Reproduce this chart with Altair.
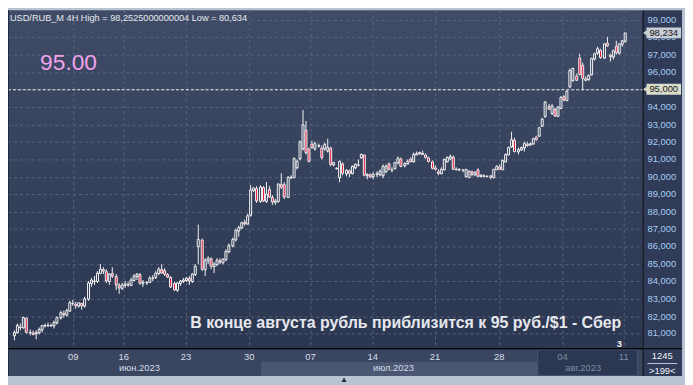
import altair as alt
import pandas as pd

# ---------------- data ----------------
opens = [
    80.90, 81.10, 81.40, 81.35, 81.90, 81.10, 81.10, 81.00, 81.05, 81.25,
    81.45, 81.50, 81.50, 81.45, 81.65, 81.90, 82.20, 82.10, 82.35, 82.75,
    82.70, 82.60, 82.75, 82.60, 83.00, 83.90, 84.05, 84.00, 84.50, 84.70,
    84.60, 84.00, 84.50, 84.30, 83.80, 83.60, 83.80, 83.85, 83.80, 84.10,
    84.30, 84.40, 83.90, 83.95, 83.95, 84.20, 84.25, 84.45, 84.70, 84.65,
    84.40, 84.25, 83.90, 83.50, 83.90, 84.00, 84.10, 84.20, 84.00, 84.40,
    86.00, 86.40, 84.70, 85.20, 85.30, 84.90, 85.00, 85.20, 85.10, 85.25,
    85.75, 86.05, 86.40, 86.90, 87.10, 87.40, 87.30, 87.80, 89.25, 89.35,
    88.60, 89.40, 88.60, 89.30, 88.85, 88.55, 88.60, 89.55, 89.60, 88.85,
    89.95, 90.00, 90.55, 91.05, 91.60, 92.70, 91.60, 91.90, 91.60, 91.80,
    91.70, 91.60, 91.50, 91.70, 90.70, 90.47, 90.00, 90.75, 90.20, 90.35,
    90.20, 90.55, 90.70, 91.10, 91.25, 90.10, 90.15, 90.05, 90.15, 90.15,
    90.10, 90.30, 90.75, 90.40, 90.50, 90.80, 91.05, 90.65, 90.75, 91.05,
    90.90, 91.30, 91.35, 91.40, 91.30, 91.10, 90.90, 90.55, 90.30, 90.20,
    90.40, 90.90, 91.05, 91.15, 90.45, 90.45, 90.40, 90.05, 90.00, 90.30,
    90.15, 90.45, 90.05, 90.10, 90.05, 90.07, 89.95, 90.45, 90.60, 90.45,
    90.90, 91.30, 91.75, 92.15, 91.45, 91.55, 91.70, 91.90, 91.85, 91.90,
    92.30, 92.35, 92.90, 93.50, 94.05, 93.65, 93.90, 93.50, 93.95, 94.60,
    94.40, 95.20, 95.55, 95.80, 96.85, 96.45, 95.65, 95.60, 95.85, 96.75,
    97.10, 97.30, 96.85, 97.70, 96.98, 96.90, 97.50, 97.10, 97.60, 97.80,
]
highs = [
    81.20, 81.60, 81.60, 82.00, 81.95, 81.25, 81.20, 81.20, 81.35, 81.50,
    81.60, 81.65, 81.60, 81.75, 82.00, 82.30, 82.35, 82.45, 82.90, 82.95,
    82.85, 82.80, 82.80, 83.10, 84.00, 84.20, 84.30, 84.60, 85.00, 84.80,
    84.70, 84.50, 84.80, 84.40, 83.90, 83.90, 84.00, 83.95, 84.20, 84.40,
    84.50, 84.50, 84.10, 84.05, 84.30, 84.35, 84.60, 84.80, 85.00, 84.75,
    84.50, 84.30, 83.95, 83.95, 84.10, 84.20, 84.25, 84.30, 84.50, 85.00,
    87.25, 86.45, 85.30, 85.45, 85.40, 85.10, 85.30, 85.35, 85.30, 85.85,
    86.15, 86.50, 87.00, 87.20, 87.45, 87.55, 87.85, 89.50, 89.40, 89.45,
    89.50, 89.45, 89.70, 89.45, 88.95, 88.70, 89.65, 90.20, 89.70, 90.05,
    90.10, 91.10, 91.00, 92.05, 93.83, 93.20, 91.70, 92.05, 92.00, 91.90,
    91.80, 91.95, 92.20, 91.75, 90.85, 90.55, 90.95, 90.85, 90.45, 90.45,
    90.65, 90.75, 91.00, 91.35, 91.30, 90.20, 90.20, 90.25, 90.30, 90.40,
    90.70, 90.70, 90.85, 90.55, 90.85, 91.15, 91.10, 90.85, 91.00, 91.10,
    91.40, 91.45, 91.45, 91.50, 91.35, 91.15, 90.95, 90.65, 90.40, 90.55,
    91.05, 91.15, 91.25, 91.20, 90.55, 90.50, 90.45, 90.45, 90.35, 90.35,
    90.30, 90.50, 90.15, 90.15, 90.10, 90.10, 90.45, 90.65, 90.70, 91.00,
    91.35, 91.75, 92.60, 92.25, 91.65, 91.75, 92.00, 92.00, 91.95, 92.25,
    92.35, 92.85, 93.35, 94.35, 94.15, 94.15, 93.95, 94.05, 94.60, 94.70,
    94.95, 96.20, 96.25, 95.90, 97.07, 96.55, 95.75, 95.85, 96.85, 97.10,
    97.45, 97.35, 97.65, 98.00, 97.05, 97.30, 97.80, 97.65, 97.85, 98.2525,
]
lows = [
    80.634, 81.00, 81.20, 81.30, 81.00, 80.90, 80.90, 80.70, 80.95, 81.10,
    81.35, 81.40, 81.40, 81.30, 81.55, 81.80, 81.95, 82.00, 82.25, 82.60,
    82.45, 82.50, 82.40, 82.50, 82.90, 83.70, 83.80, 83.90, 84.40, 84.40,
    83.90, 83.80, 84.20, 83.50, 83.30, 83.50, 83.60, 83.70, 83.75, 84.00,
    84.10, 83.80, 83.70, 83.80, 83.90, 84.05, 84.15, 84.35, 84.45, 84.30,
    84.20, 83.60, 83.45, 83.40, 83.75, 83.90, 83.95, 83.80, 83.90, 84.30,
    85.00, 84.60, 84.30, 85.00, 84.70, 84.50, 84.90, 85.00, 85.00, 85.15,
    85.60, 85.95, 86.30, 86.60, 87.00, 87.20, 87.25, 87.70, 89.10, 88.50,
    88.50, 88.55, 88.50, 88.80, 88.40, 88.40, 88.50, 89.30, 88.75, 88.80,
    89.85, 89.95, 90.45, 90.95, 91.50, 91.30, 90.80, 91.60, 91.50, 91.70,
    91.00, 91.50, 91.40, 90.60, 90.60, 90.40, 89.70, 90.10, 90.05, 90.00,
    90.15, 90.45, 90.60, 91.05, 90.05, 89.85, 89.95, 89.85, 90.00, 90.05,
    89.90, 90.20, 90.35, 90.25, 90.40, 90.70, 90.55, 90.55, 90.70, 90.85,
    90.85, 91.25, 91.25, 91.25, 91.05, 90.85, 90.45, 90.35, 90.10, 90.15,
    90.35, 90.85, 90.95, 90.40, 90.35, 90.30, 90.25, 89.95, 89.95, 90.05,
    90.05, 90.00, 90.00, 89.95, 89.95, 89.85, 89.90, 90.40, 90.40, 90.40,
    90.80, 91.25, 91.70, 91.40, 91.30, 91.50, 91.45, 91.75, 91.80, 91.85,
    92.05, 92.30, 92.85, 93.40, 93.85, 93.55, 93.45, 93.45, 93.90, 94.35,
    94.35, 95.10, 95.45, 95.50, 95.80, 94.94, 95.45, 95.55, 95.80, 96.65,
    97.00, 96.75, 96.75, 97.45, 96.60, 96.70, 97.00, 97.00, 97.45, 97.70,
]
closes = [
    81.10, 81.50, 81.35, 81.90, 81.10, 81.05, 80.95, 81.10, 81.25, 81.45,
    81.50, 81.50, 81.45, 81.65, 81.90, 82.20, 82.10, 82.35, 82.80, 82.70,
    82.60, 82.75, 82.60, 83.00, 83.90, 84.10, 84.00, 84.50, 84.70, 84.60,
    84.00, 84.40, 84.30, 83.80, 83.60, 83.80, 83.85, 83.80, 84.10, 84.30,
    84.40, 83.90, 83.95, 83.90, 84.20, 84.20, 84.50, 84.70, 84.50, 84.40,
    84.25, 83.70, 83.50, 83.90, 84.00, 84.10, 84.20, 84.00, 84.40, 84.90,
    86.40, 84.70, 85.20, 85.35, 84.90, 85.00, 85.20, 85.10, 85.25, 85.75,
    86.05, 86.40, 86.90, 87.10, 87.35, 87.30, 87.75, 89.25, 89.35, 88.60,
    89.40, 88.60, 89.00, 88.85, 88.55, 88.60, 89.55, 89.40, 88.85, 89.95,
    90.00, 91.05, 90.90, 92.00, 93.00, 91.40, 90.90, 91.70, 91.90, 91.80,
    91.10, 91.85, 91.70, 90.70, 90.80, 90.47, 90.90, 90.20, 90.35, 90.20,
    90.60, 90.70, 90.65, 91.25, 90.10, 90.15, 90.00, 90.15, 90.20, 90.30,
    90.60, 90.60, 90.40, 90.35, 90.80, 91.05, 90.60, 90.75, 90.90, 90.90,
    91.30, 91.35, 91.38, 91.30, 91.10, 90.90, 90.50, 90.45, 90.20, 90.45,
    91.00, 91.10, 91.15, 90.45, 90.45, 90.40, 90.35, 90.40, 90.30, 90.15,
    90.25, 90.05, 90.10, 90.05, 90.05, 89.95, 90.40, 90.60, 90.45, 90.95,
    91.30, 91.65, 92.15, 91.45, 91.55, 91.65, 91.90, 91.80, 91.90, 92.20,
    92.10, 92.80, 93.30, 94.30, 93.90, 94.05, 93.50, 94.00, 94.55, 94.40,
    94.90, 96.10, 96.20, 95.55, 95.85, 95.65, 95.55, 95.80, 96.80, 97.05,
    97.35, 96.85, 97.60, 97.50, 96.90, 97.25, 97.10, 97.60, 97.80, 98.234,
]

price_ticks = [81, 82, 83, 84, 85, 86, 87, 88, 89, 90, 91, 92, 93, 94, 95, 96, 97, 98, 99]
week_pos = [19.3, 35.8, 56.1, 76.7, 96.6, 116.9, 137.2, 158.1, 178.7, 198.7]
week_labels = ["09", "16", "23", "30", "07", "14", "21", "28", "04", "11"]
week_colors = ["#d6dce8"] * 8 + ["#7f8ca3"] * 2
month_labels = ["июн.2023", "июл.2023", "авг.2023"]
month_pos = [40.9, 123.6, 185.4]
month_start = [-0.32, 80.5, 170.5]
month_end = [80.5, 170.5, 203.1]
month_colors = ["#d6dce8", "#d6dce8", "#7f8ca3"]
tag_prices = [98.234, 95.0]
tag_labels = ["98,234", "95,000"]
tag_colors = ["#c9ced6", "#d9dccb"]
level_line = [95.0]
title_text = "USD/RUB_M 4H High = 98,2525000000004 Low = 80,634"
level_text = "95.00"
note_text = "В конце августа рубль приблизится к 95 руб./$1 - Сбер"
bars_total = "1245"
bars_visible = ">199<"

# ---------------- frames ----------------
W, H = 642, 342
FONT = "Liberation Sans"

df = pd.DataFrame({"i": list(range(len(closes))), "o": opens, "h": highs, "l": lows, "c": closes})
df["top"] = df[["o", "c"]].max(axis=1)
df["bot"] = df[["o", "c"]].min(axis=1)
df["bear"] = df["c"] < df["o"]

grid_y = pd.DataFrame({"p": price_ticks})
grid_y["t"] = [f"{v:.3f}".replace(".", ",") for v in price_ticks]
weeks = pd.DataFrame({"p": week_pos, "t": week_labels, "col": week_colors})
months = pd.DataFrame({"s": month_start, "e": month_end, "p": month_pos, "t": month_labels, "col": month_colors})
tags = pd.DataFrame({"p": tag_prices, "t": tag_labels, "col": tag_colors})
lvl = pd.DataFrame({"p": level_line})
one = pd.DataFrame({"k": [0]})

xs = alt.Scale(domain=[-0.32, 203.1], nice=False, zero=False, round=True)
ys = alt.Scale(domain=[80.17, 99.55], nice=False, zero=False, round=True)
xaxis = alt.Axis(labels=False, ticks=False, grid=False, domain=True, domainColor="#000000",
                 domainWidth=1, title=None, zindex=1)
yaxis = alt.Axis(orient="right", labels=False, grid=False, ticks=False, domain=True,
                 domainColor="#000000", domainWidth=1, title=None, zindex=1)

def X(f):
    return alt.X(f, type="quantitative", scale=xs, axis=xaxis)

def Y(f):
    return alt.Y(f, type="quantitative", scale=ys, axis=yaxis)

base1 = alt.Chart(one)

plot_bg = base1.mark_rect(fill=alt.Gradient(
    gradient="linear", x1=0, x2=0, y1=0, y2=1,
    stops=[alt.GradientStop(color="#404c67", offset=0), alt.GradientStop(color="#2b3650", offset=1)]
)).encode(x=alt.value(0), x2=alt.value(W), y=alt.value(0), y2=alt.value(H))

right_bg = base1.mark_rect(fill="#2f3b57").encode(
    x=alt.value(W), x2=alt.value(W + 40), y=alt.value(0), y2=alt.value(H + 28))
bottom_bg = base1.mark_rect(fill="#3a4660").encode(
    x=alt.value(0), x2=alt.value(W), y=alt.value(H), y2=alt.value(H + 28))

jul_band = alt.Chart(months.iloc[[1]]).mark_rect(fill="#4a5672").encode(
    x=X("s"), x2="e", y=alt.value(H + 14), y2=alt.value(H + 28))
aug_band = alt.Chart(months.iloc[[2]]).mark_rect(fill="#2c3852", stroke="#4a5672", strokeWidth=1).encode(
    x=X("s"), x2="e", y=alt.value(H + 1.5), y2=alt.value(H + 27.5))

hgrid = alt.Chart(grid_y).mark_rule(color="#58647e", strokeDash=[3, 3], strokeWidth=1, yOffset=0.5).encode(
    y=Y("p"), x=alt.value(0), x2=alt.value(W))
vgrid = alt.Chart(weeks).mark_rule(color="#58647e", strokeDash=[3, 3], strokeWidth=1, xOffset=0.5).encode(
    x=X("p"), y=alt.value(0), y2=alt.value(H))

candles = alt.Chart(df)
wick_up = candles.mark_rule(color="#f4f4f4", strokeWidth=1, xOffset=0.5).encode(
    x=X("i"), y=Y("h"), y2="top")
wick_dn = candles.mark_rule(color="#f4f4f4", strokeWidth=1, xOffset=0.5).encode(
    x=X("i"), y=Y("bot"), y2="l")
bodies = candles.mark_bar(width=2, stroke="#f4f4f4", strokeWidth=1, xOffset=0.5, yOffset=0.5).encode(
    x=X("i"), y=Y("o"), y2="c",
    fill=alt.condition("datum.bear", alt.value("#e3173e"), alt.value("transparent")))

level = alt.Chart(lvl).mark_rule(color="#eeeeee", strokeDash=[3, 2], strokeWidth=1, yOffset=0.5).encode(
    y=Y("p"), x=alt.value(0), x2=alt.value(W))

sep_lines = alt.layer(
    base1.mark_rule(color="#000000").encode(x=alt.value(0), x2=alt.value(W + 40), y=alt.value(H + 0.5)),
    base1.mark_rule(color="#000000").encode(x=alt.value(W + 0.5), y=alt.value(H), y2=alt.value(H + 28)),
    base1.mark_rule(color="#1f2a3d").encode(x=alt.value(0.5), y=alt.value(0), y2=alt.value(H + 28)),
    base1.mark_rule(color="#c0c8d8").encode(x=alt.value(W + 5), x2=alt.value(W + 35), y=alt.value(H + 15.5)),
)

ylabels = alt.Chart(grid_y).mark_text(font=FONT, fontSize=9.5, align="left", baseline="middle",
                                      color="#a9cbf3").encode(
    y=Y("p"), x=alt.value(W + 5), text="t:N")
week_txt = alt.Chart(weeks).mark_text(font=FONT, fontSize=9.5, baseline="middle", align="center").encode(
    x=X("p"), y=alt.value(H + 9), text="t:N", color=alt.Color("col:N", scale=None))
month_txt = alt.Chart(months).mark_text(font=FONT, fontSize=9.5, baseline="middle", align="center").encode(
    x=X("p"), y=alt.value(H + 20), text="t:N", color=alt.Color("col:N", scale=None))

title = base1.mark_text(font=FONT, fontSize=9.3, align="left", baseline="alphabetic", color="#e6e9ef").encode(
    x=alt.value(2), y=alt.value(10.5), text=alt.value(title_text))
big = base1.mark_text(font=FONT, fontSize=23, align="left", baseline="alphabetic", color="#f4a3ee").encode(
    x=alt.value(32.5), y=alt.value(60.3), text=alt.value(level_text))
note = base1.mark_text(font=FONT, fontSize=16.1, fontWeight="bold", align="left", baseline="alphabetic",
                       color="#e6e8ee").encode(
    x=alt.value(184.5), y=alt.value(321.5), text=alt.value(note_text))
three = base1.mark_text(font=FONT, fontSize=9.5, fontWeight="bold", align="left", baseline="middle",
                        color="#f0f0f0").encode(x=alt.value(616), y=alt.value(338), text=alt.value("3"))
cnt1 = base1.mark_text(font=FONT, fontSize=9.5, align="center", baseline="middle", color="#f0f2f6").encode(
    x=alt.value(W + 20), y=alt.value(H + 8), text=alt.value(bars_total))
cnt2 = base1.mark_text(font=FONT, fontSize=9.5, align="center", baseline="middle", color="#f0f2f6").encode(
    x=alt.value(W + 20), y=alt.value(H + 23), text=alt.value(bars_visible))
bottom_tri = base1.mark_point(shape="triangle-up", filled=True, size=28, color="#27303f", opacity=1).encode(
    x=alt.value(340), y=alt.value(374))

tag_box = alt.Chart(tags).mark_tick(orient="horizontal", thickness=11, size=35, opacity=1).encode(
    y=Y("p"), x=alt.value(W + 21.5), color=alt.Color("col:N", scale=None))
tag_arrow = alt.Chart(tags).mark_point(shape="triangle-left", filled=True, size=45, opacity=1).encode(
    y=Y("p"), x=alt.value(W + 3), color=alt.Color("col:N", scale=None))
tag_txt = alt.Chart(tags).mark_text(font=FONT, fontSize=9.5, align="center", baseline="middle",
                                    color="#161616").encode(
    y=Y("p"), x=alt.value(W + 21.5), text="t:N")

chart = alt.layer(
    plot_bg, right_bg, bottom_bg, jul_band, aug_band, hgrid, vgrid,
    wick_up, wick_dn, bodies, level, sep_lines, ylabels,
    week_txt, month_txt, title, big, note, three, cnt1, cnt2, bottom_tri,
    tag_box, tag_arrow, tag_txt,
).properties(
    width=W, height=H,
    autosize=alt.AutoSizeParams(type="none"),
    padding={"left": 0, "top": 0, "right": 43, "bottom": 35},
    background="#b8c4d4",
).configure_view(strokeWidth=0)

chart.save("out.html", embed_options={"renderer": "svg", "actions": False})
